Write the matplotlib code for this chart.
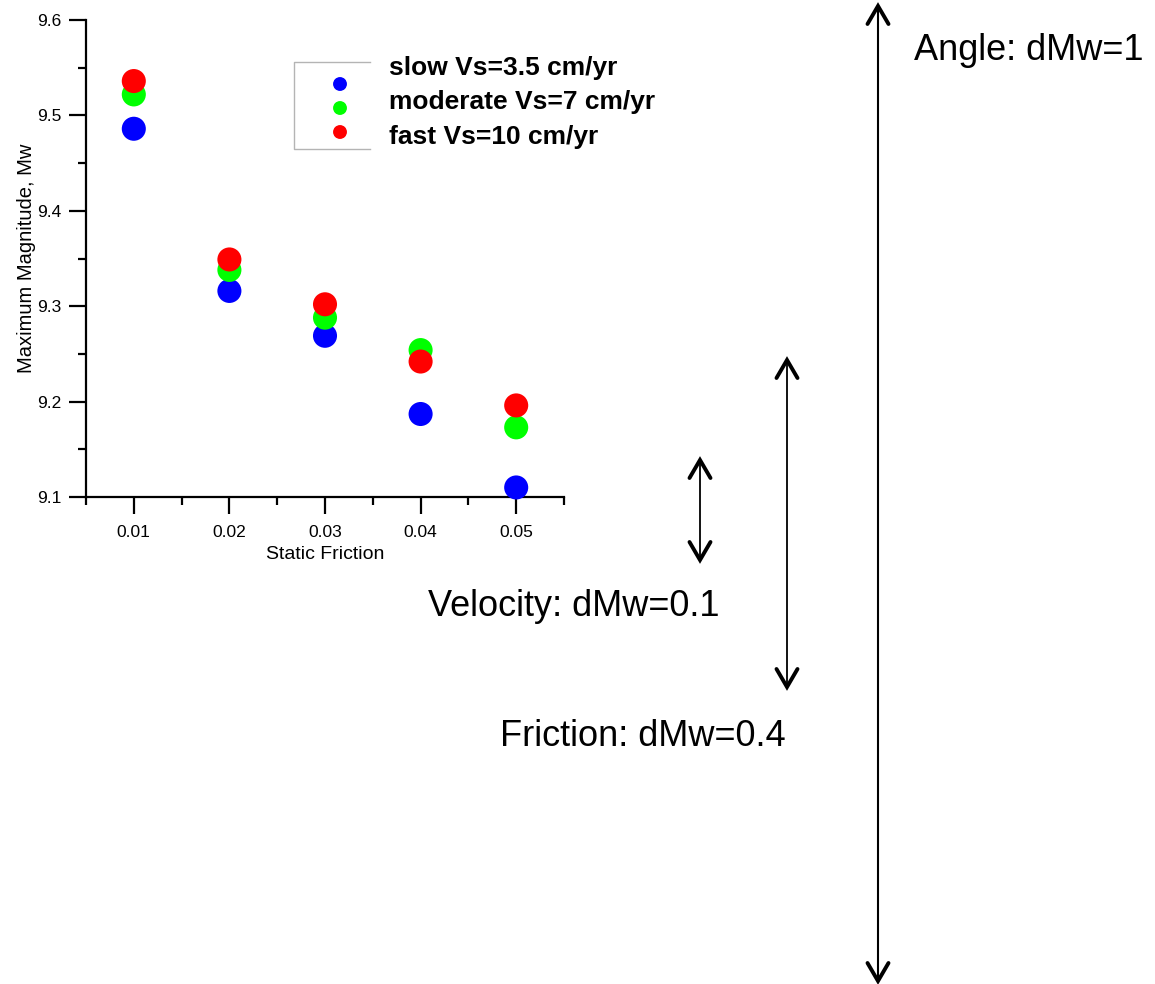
import matplotlib
matplotlib.use("Agg")
import matplotlib.pyplot as plt
from matplotlib.ticker import MultipleLocator, FormatStrFormatter

plt.rcParams['font.family'] = ['Liberation Sans', 'DejaVu Sans']

# Static friction values and maximum magnitudes for each subduction velocity
friction = [0.01, 0.02, 0.03, 0.04, 0.05]
mw_slow = [9.486, 9.316, 9.269, 9.187, 9.110]
mw_moderate = [9.522, 9.338, 9.288, 9.254, 9.173]
mw_fast = [9.536, 9.349, 9.302, 9.242, 9.196]

series_labels = ["slow Vs=3.5 cm/yr", "moderate Vs=7 cm/yr", "fast Vs=10 cm/yr"]
series_colors = ["#0000ff", "#00ff00", "#ff0000"]

notes = ["Angle: dMw=1", "Friction: dMw=0.4", "Velocity: dMw=0.1"]

W, H = 1155, 984
fig = plt.figure(figsize=(W / 100, H / 100), dpi=100)

ax = fig.add_axes([86 / W, 1 - 497 / H, (564 - 86) / W, (497 - 20) / H])
for vals, col in zip([mw_slow, mw_moderate, mw_fast], series_colors):
    ax.scatter(friction, vals, s=300, color=col, edgecolors='none', zorder=3,
               clip_on=False)

ax.set_xlim(0.005, 0.055)
ax.set_ylim(9.1, 9.6)
ax.xaxis.set_major_locator(MultipleLocator(0.01))
ax.xaxis.set_minor_locator(MultipleLocator(0.005))
ax.yaxis.set_major_locator(MultipleLocator(0.1))
ax.yaxis.set_minor_locator(MultipleLocator(0.05))
ax.xaxis.set_major_formatter(FormatStrFormatter('%.2f'))
ax.yaxis.set_major_formatter(FormatStrFormatter('%.1f'))

for side in ['top', 'right']:
    ax.spines[side].set_visible(False)
for side in ['left', 'bottom']:
    ax.spines[side].set_linewidth(1.6)

ax.tick_params(which='major', direction='out', length=12.5, width=1.6,
               labelsize=12.5, pad=5)
ax.tick_params(which='minor', direction='out', length=6, width=1.6)
ax.tick_params(axis='x', which='major', pad=8)

ax.set_xlabel("Static Friction", fontsize=14, labelpad=4)
ax.set_ylabel("Maximum Magnitude, Mw", fontsize=14.5, labelpad=1)

# Overlay in pixel coordinates for the legend box and the range arrows
ov = fig.add_axes([0, 0, 1, 1])
ov.set_xlim(0, W)
ov.set_ylim(H, 0)
ov.axis('off')
ov.patch.set_visible(False)

# Legend frame (open on the right) with marker glyphs and bold labels
ov.plot([370, 294, 294, 370], [62, 62, 149, 149], color='#b4b4b4', lw=1.0)
for i, col in enumerate(series_colors):
    ov.scatter([340], [84 + 24 * i], s=100, color=col, edgecolors='none')
for i, lab in enumerate(series_labels):
    ov.text(389, 68 + 34.5 * i, lab, fontsize=19, fontweight='bold',
            va='center', ha='left')


def double_arrow(x, y0, y1, shaft_lw):
    ov.plot([x, x], [y0 + 2, y1 - 2], color='black', lw=shaft_lw,
            solid_capstyle='butt')
    hw, hl = 10.5, 18
    ov.plot([x - hw, x, x + hw], [y0 + hl, y0, y0 + hl], color='black',
            lw=2.8, solid_capstyle='round', solid_joinstyle='miter')
    ov.plot([x - hw, x, x + hw], [y1 - hl, y1, y1 - hl], color='black',
            lw=2.8, solid_capstyle='round', solid_joinstyle='miter')


double_arrow(878, 6, 981, 1.5)
double_arrow(787, 360, 687, 1.3)
double_arrow(700, 460, 560, 1.3)

ov.text(914, 60, notes[0], fontsize=26, va='baseline', ha='left')
ov.text(500, 746, notes[1], fontsize=26, va='baseline', ha='left')
ov.text(428, 616, notes[2], fontsize=26, va='baseline', ha='left')

fig.savefig("out.png", dpi=100, facecolor='white')
